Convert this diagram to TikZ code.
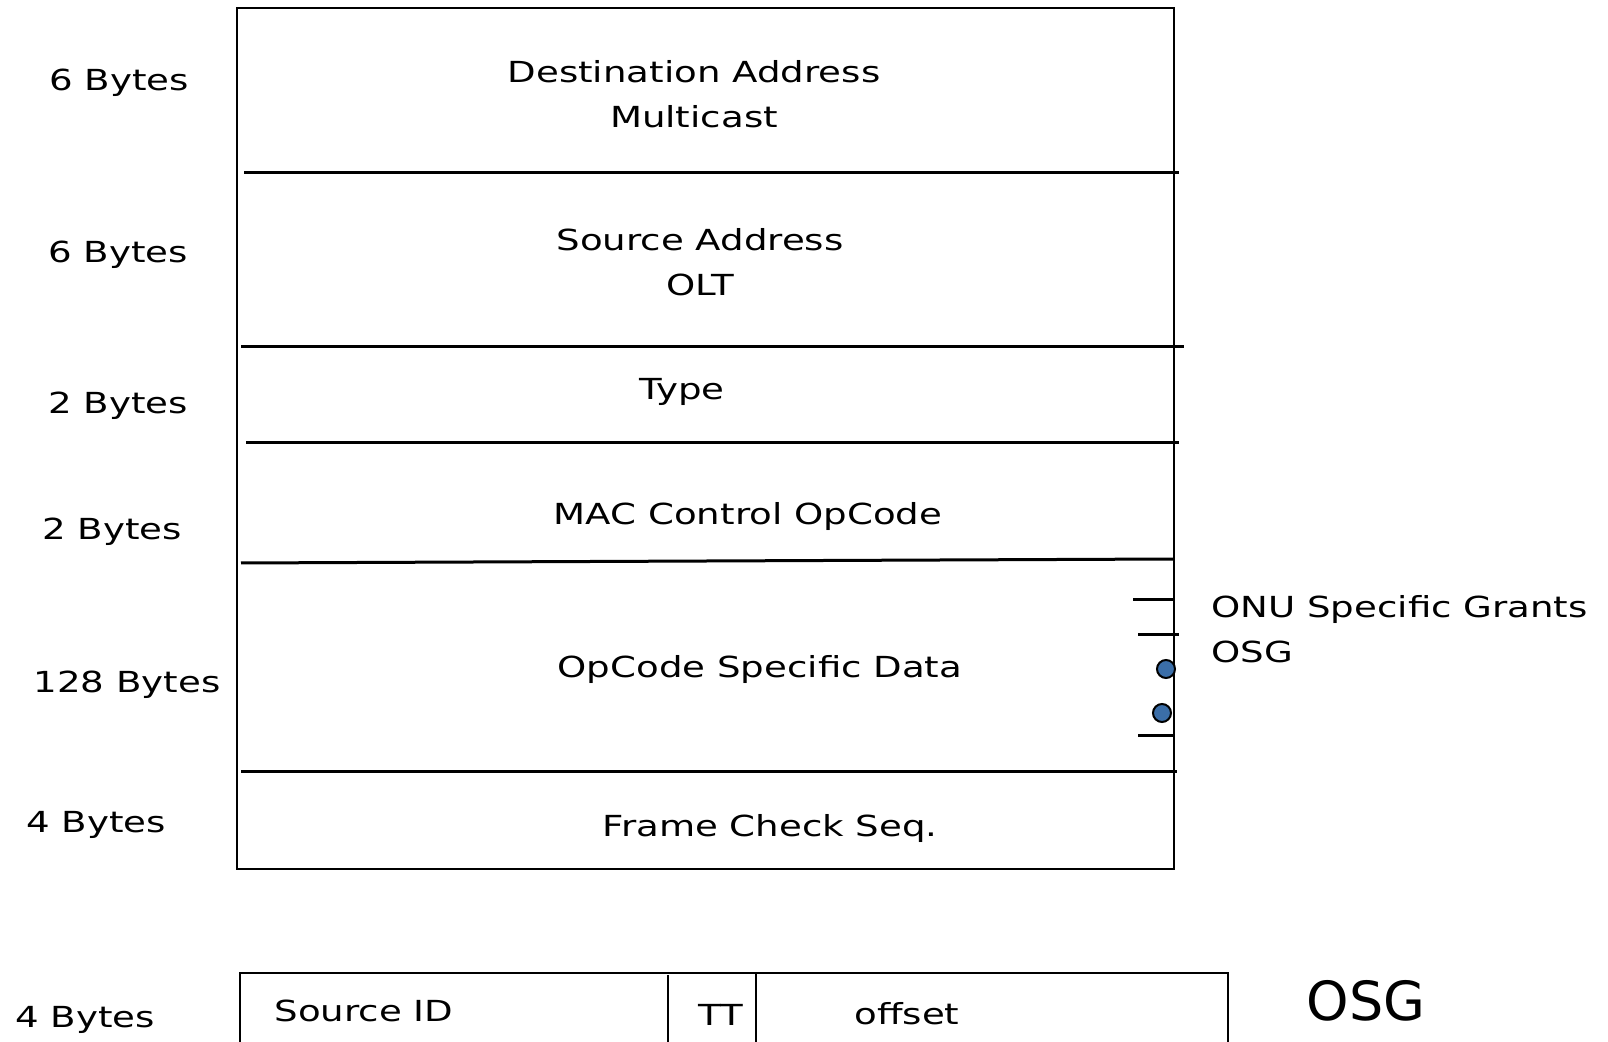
\documentclass[tikz,border=0pt]{standalone}
\usepackage{fontspec}
\setmainfont{DejaVu Sans}[FakeStretch=1.28]
\newfontfamily\osgfont{DejaVu Sans}
\usetikzlibrary{positioning}
\definecolor{azulpunto}{HTML}{3B6EA8}
\tikzstyle{campo} = [font=\fontsize{14.5}{22.5}\selectfont, align=center, inner sep=0pt]
\tikzstyle{bytes} = [font=\fontsize{14.5}{18}\selectfont, inner sep=0pt]
\tikzstyle{marco} = [draw, line width=1.25pt]
\tikzstyle{linea} = [line width=1.5pt]
\tikzstyle{punto} = [circle, draw=black, fill=azulpunto, line width=1pt, minimum size=9pt, inner sep=0pt]

\begin{document}
\begin{tikzpicture}[x=0.5pt, y=-0.5pt]
	\useasboundingbox (0,0) rectangle (1608,1042);
	\clip (0,0) rectangle (1608,1042);
	% trama principal
	\draw[marco] (237,8) rectangle (1174,869);
	\draw[linea] (244,173) -- (1179,173);
	\draw[linea] (241,347) -- (1184,347);
	\draw[linea] (246,443) -- (1179,443);
	\draw[linea] (241,563) -- (1174,559);
	\draw[linea] (241,772) -- (1177,772);
	% campos
	\node[campo] (dst) at (694,94) {Destination Address\\Multicast};
	\node[campo] (src) at (700,262) {Source Address\\OLT};
	\node[campo] (tipo) at (682,392) {Type};
	\node[campo] (opcode) at (748,517) {MAC Control OpCode};
	\node[campo] (datos) at (760,670) {OpCode Specific Data};
	\node[campo] (fcs) at (770,829) {Frame Check Seq.};
	% longitudes
	\node[bytes] (b1) at (119,83) {6 Bytes};
	\node[bytes] (b2) at (118,255) {6 Bytes};
	\node[bytes] (b3) at (118,406) {2 Bytes};
	\node[bytes] (b4) at (112,532) {2 Bytes};
	\node[bytes] (b5) at (127,685) {128 Bytes};
	\node[bytes] (b6) at (96,825) {4 Bytes};
	% grants
	\coordinate (g1) at (1174,600);
	\coordinate (g2) at (1179,635);
	\coordinate (g3) at (1174,736);
	\draw[linea] (1133,600) -- (g1);
	\draw[linea] (1138,635) -- (g2);
	\draw[linea] (1138,736) -- (g3);
	\node[punto] (p1) at (1166,669) {};
	\node[punto] (p2) at (1162,713) {};
	\node[campo, align=left, anchor=west] (onu) at (1211,629) {ONU Specific Grants\\OSG};
	% OSG
	\draw[marco] (240,973) rectangle (1228,1060);
	\draw[marco] (668,975) -- (668,1060);
	\draw[marco] (756,973) -- (756,1060);
	\node[campo] (srcid) at (364,1011) {Source ID};
	\node[campo] (tt) at (721,1015) {TT};
	\node[campo] (offset) at (907,1014) {offset};
	\node[bytes] (b7) at (85,1020) {4 Bytes};
	\node[font=\osgfont\fontsize{27}{30}\selectfont, inner sep=0pt] (osg) at (1366,1001) {OSG};
\end{tikzpicture}
\end{document}
